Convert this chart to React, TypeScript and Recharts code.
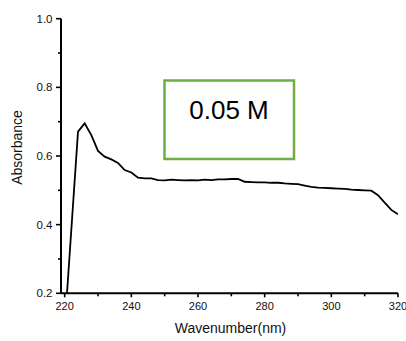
import React from "react";
import { LineChart, Line, XAxis, YAxis, Customized } from "recharts";

const wavelengths = [220, 224, 226, 228, 230, 232, 234, 236, 238, 240, 242, 244, 246, 248, 250, 252, 254, 256, 258, 260, 262, 264, 266, 268, 270, 272, 274, 276, 278, 280, 282, 284, 286, 288, 290, 292, 294, 296, 298, 300, 302, 304, 306, 308, 310, 312, 314, 316, 318, 320];
const absorbance = [0.1, 0.671, 0.695, 0.661, 0.615, 0.598, 0.59, 0.58, 0.559, 0.552, 0.537, 0.535, 0.535, 0.53, 0.529, 0.531, 0.53, 0.529, 0.53, 0.529, 0.531, 0.53, 0.532, 0.532, 0.533, 0.533, 0.525, 0.524, 0.523, 0.523, 0.522, 0.522, 0.52, 0.519, 0.518, 0.514, 0.51, 0.508, 0.507, 0.506, 0.505, 0.504, 0.502, 0.501, 0.5, 0.499, 0.486, 0.464, 0.443, 0.43];
const xTicks = [220, 230, 240, 250, 260, 270, 280, 290, 300, 310, 320];
const yTicks = [0.2, 0.3, 0.4, 0.5, 0.6, 0.7, 0.8, 0.9, 1.0];
const annotation = "0.05 M";
const xTitle = "Wavenumber(nm)";
const yTitle = "Absorbance";

const data = wavelengths.map((w, i) => ({ x: w, y: absorbance[i] }));
const FONT = "'Liberation Sans', Arial, sans-serif";

const XTick = (props: any) => {
  const { x, y, payload } = props;
  const major = Math.round(payload.value) % 20 === 0;
  return (
    <g>
      <line x1={x} x2={x} y1={y} y2={y + (major ? 4 : 3)} stroke="#000" strokeWidth={1.6} />
      {major && (
        <text x={x} y={y + 16.7} textAnchor="middle" fontSize={11} fontFamily={FONT} fill="#111">
          {payload.value}
        </text>
      )}
    </g>
  );
};

const YTick = (props: any) => {
  const { x, y, payload } = props;
  const major = Math.round(payload.value * 10) % 2 === 0;
  return (
    <g>
      <line x1={x - (major ? 5 : 3)} x2={x} y1={y} y2={y} stroke="#000" strokeWidth={1.6} />
      {major && (
        <text x={x - 8.5} y={y + 4} textAnchor="end" fontSize={11.5} fontFamily={FONT} fill="#111">
          {Number(payload.value).toFixed(1)}
        </text>
      )}
    </g>
  );
};

const Extras = () => (
  <g>
    <rect x={164.5} y={80.5} width={129.5} height={78.5} fill="none" stroke="#70ad47" strokeWidth={2.5} />
    <text x={229} y={118.5} textAnchor="middle" fontSize={26} fontFamily={FONT} fill="#000">
      {annotation}
    </text>
    <text x={230.5} y={333} textAnchor="middle" fontSize={14} fontFamily={FONT} fill="#111">
      {xTitle}
    </text>
    <text
      x={0}
      y={0}
      transform="translate(21.5,147.5) rotate(-90)"
      textAnchor="middle"
      fontSize={14}
      fontFamily={FONT}
      fill="#111"
    >
      {yTitle}
    </text>
  </g>
);

export default function App() {
  return (
    <div style={{ position: "absolute", left: 0, top: 0, width: 406, height: 341, background: "#fff" }}>
      <LineChart
        width={406}
        height={341}
        data={data}
        margin={{ top: 18.7, right: 8, bottom: 17.7, left: 0 }}
      >
        <XAxis
          type="number"
          dataKey="x"
          domain={[218.9, 320]}
          allowDataOverflow
          ticks={xTicks}
          interval={0}
          tickSize={0}
          tickMargin={0}
          tickLine={false}
          height={30}
          axisLine={{ stroke: "#000", strokeWidth: 2 }}
          tick={<XTick />}
        />
        <YAxis
          type="number"
          dataKey="y"
          domain={[0.2, 1.0]}
          allowDataOverflow
          ticks={yTicks}
          interval={0}
          tickSize={0}
          tickMargin={0}
          tickLine={false}
          width={61}
          axisLine={{ stroke: "#000", strokeWidth: 2 }}
          tick={<YTick />}
        />
        <Line
          type="linear"
          dataKey="y"
          stroke="#000"
          strokeWidth={1.8}
          dot={false}
          isAnimationActive={false}
        />
        <Customized component={<Extras />} />
      </LineChart>
    </div>
  );
}
